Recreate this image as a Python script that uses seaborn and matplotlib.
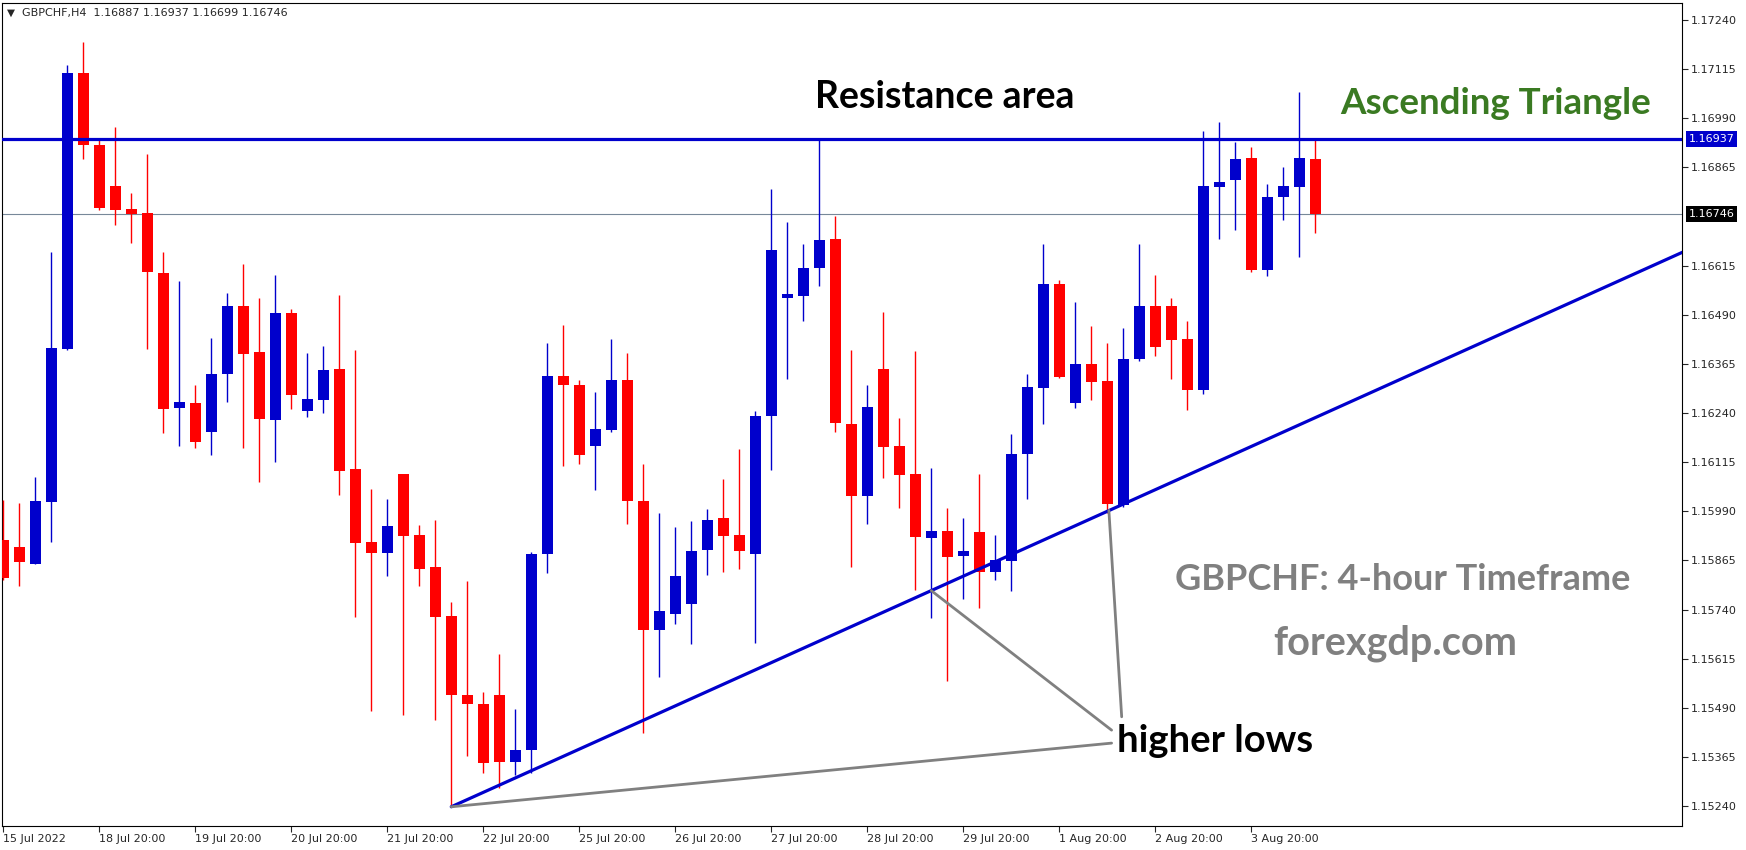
import matplotlib
matplotlib.use('Agg')
import matplotlib.pyplot as plt
import matplotlib.transforms as mtransforms
import pandas as pd
import seaborn as sns

# GBPCHF H4 candles, from 15 Jul 2022 20:00 to 4 Aug 12:00
opens = [1.15918, 1.15900, 1.15857, 1.16013, 1.16404, 1.17105, 1.16922, 1.16818, 1.16759, 1.16750,
         1.16596, 1.16253, 1.16266, 1.16192, 1.16338, 1.16513, 1.16396, 1.16223, 1.16495, 1.16244,
         1.16273, 1.16353, 1.16098, 1.15912, 1.15884, 1.16086, 1.15930, 1.15849, 1.15724, 1.15523,
         1.15500, 1.15523, 1.15352, 1.15382, 1.15881, 1.16335, 1.16312, 1.16157, 1.16198, 1.16324,
         1.16017, 1.15689, 1.15729, 1.15754, 1.15892, 1.15973, 1.15930, 1.15880, 1.16233, 1.16532,
         1.16538, 1.16610, 1.16683, 1.16213, 1.16028, 1.16353, 1.16155, 1.16086, 1.15922, 1.15941,
         1.15875, 1.15938, 1.15836, 1.15863, 1.16136, 1.16304, 1.16567, 1.16265, 1.16365, 1.16322,
         1.16005, 1.16378, 1.16513, 1.16513, 1.16428, 1.16299, 1.16814, 1.16832, 1.16890, 1.16604,
         1.16789, 1.16814, 1.16887]
highs = [1.16019, 1.16012, 1.16078, 1.16650, 1.17125, 1.17185, 1.16937, 1.16968, 1.16800, 1.16899,
         1.16650, 1.16576, 1.16312, 1.16431, 1.16545, 1.16619, 1.16533, 1.16591, 1.16505, 1.16393,
         1.16410, 1.16541, 1.16401, 1.16047, 1.16021, 1.16086, 1.15956, 1.15969, 1.15759, 1.15813,
         1.15531, 1.15627, 1.15486, 1.15887, 1.16419, 1.16464, 1.16324, 1.16293, 1.16429, 1.16393,
         1.16110, 1.15985, 1.15949, 1.15964, 1.15995, 1.16073, 1.16149, 1.16246, 1.16810, 1.16727,
         1.16670, 1.16937, 1.16742, 1.16401, 1.16312, 1.16498, 1.16227, 1.16397, 1.16101, 1.15999,
         1.15972, 1.16086, 1.15930, 1.16187, 1.16338, 1.16670, 1.16578, 1.16522, 1.16462, 1.16419,
         1.16456, 1.16670, 1.16591, 1.16533, 1.16475, 1.16957, 1.16981, 1.16930, 1.16917, 1.16822,
         1.16867, 1.17057, 1.16937]
lows = [1.15814, 1.15799, 1.15855, 1.15911, 1.16400, 1.16887, 1.16756, 1.16719, 1.16673, 1.16404,
        1.16190, 1.16155, 1.16152, 1.16133, 1.16269, 1.16152, 1.16065, 1.16116, 1.16250, 1.16230,
        1.16241, 1.16032, 1.15721, 1.15483, 1.15824, 1.15472, 1.15801, 1.15460, 1.15238, 1.15366,
        1.15324, 1.15285, 1.15319, 1.15325, 1.15833, 1.16106, 1.16109, 1.16044, 1.16192, 1.15958,
        1.15426, 1.15569, 1.15704, 1.15653, 1.15829, 1.15836, 1.15844, 1.15655, 1.16094, 1.16327,
        1.16475, 1.16564, 1.16192, 1.15849, 1.15958, 1.16075, 1.15999, 1.15790, 1.15719, 1.15558,
        1.15766, 1.15745, 1.15814, 1.15787, 1.16020, 1.16213, 1.16328, 1.16254, 1.16272, 1.15985,
        1.16001, 1.16373, 1.16386, 1.16327, 1.16248, 1.16288, 1.16684, 1.16705, 1.16600, 1.16588,
        1.16731, 1.16637, 1.16699]
closes = [1.15821, 1.15860, 1.16015, 1.16406, 1.17105, 1.16921, 1.16762, 1.16756, 1.16746, 1.16599,
          1.16250, 1.16269, 1.16167, 1.16338, 1.16513, 1.16390, 1.16225, 1.16495, 1.16287, 1.16276,
          1.16350, 1.16093, 1.15910, 1.15884, 1.15953, 1.15926, 1.15844, 1.15721, 1.15523, 1.15499,
          1.15350, 1.15352, 1.15383, 1.15881, 1.16335, 1.16311, 1.16133, 1.16200, 1.16324, 1.16016,
          1.15689, 1.15735, 1.15824, 1.15890, 1.15969, 1.15926, 1.15890, 1.16233, 1.16656, 1.16544,
          1.16610, 1.16681, 1.16215, 1.16028, 1.16256, 1.16153, 1.16083, 1.15925, 1.15941, 1.15873,
          1.15888, 1.15836, 1.15867, 1.16136, 1.16307, 1.16567, 1.16331, 1.16365, 1.16320, 1.16008,
          1.16378, 1.16513, 1.16409, 1.16425, 1.16299, 1.16818, 1.16829, 1.16887, 1.16604, 1.16790,
          1.16818, 1.16890, 1.16746]

tick_pos = [0, 6, 12, 18, 24, 30, 36, 42, 48, 54, 60, 66, 72, 78]
tick_labels = ['15 Jul 2022', '18 Jul 20:00', '19 Jul 20:00', '20 Jul 20:00', '21 Jul 20:00',
               '22 Jul 20:00', '25 Jul 20:00', '26 Jul 20:00', '27 Jul 20:00', '28 Jul 20:00',
               '29 Jul 20:00', '1 Aug 20:00', '2 Aug 20:00', '3 Aug 20:00']
price_ticks = [1.17240, 1.17115, 1.16990, 1.16865, 1.16615, 1.16490, 1.16365, 1.16240,
               1.16115, 1.15990, 1.15865, 1.15740, 1.15615, 1.15490, 1.15365, 1.15240]

resistance = 1.16937
last_price = 1.16746
header = 'GBPCHF,H4  1.16887 1.16937 1.16699 1.16746'

# ascending trendline (ray) through the higher lows
trend_x = [28, 105]
trend_y = [1.15238, 1.16650]
# grey pointer lines from the "higher lows" label
pointer_x = [[28, 69.27], [58, 69.27], [69.1, 69.9]]
pointer_y = [[1.15238, 1.15400], [1.15788, 1.15433], [1.15992, 1.15467]]

df = pd.DataFrame({'open': opens, 'high': highs, 'low': lows, 'close': closes})
df['idx'] = range(len(df))
df['up'] = df['close'] >= df['open']
df['color'] = df['up'].map({True: '#0000CC', False: '#FF0000'})
df['body_lo'] = df[['open', 'close']].min(axis=1)
df['body_h'] = (df['close'] - df['open']).abs()

sns.set_style('white')
plt.rcParams['font.family'] = ['DejaVu Sans']

W, H = 1746, 850
fig = plt.figure(figsize=(W / 100, H / 100), dpi=100)
ax = fig.add_axes([2 / W, 1 - 826 / H, 1680 / W, 823 / H])

# candles
ax.vlines(df['idx'], df['low'], df['high'], colors=df['color'], linewidth=1.0, zorder=3)
ax.bar(df['idx'], df['body_h'], bottom=df['body_lo'], width=0.68,
       color=df['color'], linewidth=0, zorder=4)

# horizontal lines
ax.axhline(resistance, color='#0000CC', lw=2.3, zorder=5)
ax.axhline(last_price, color='#778899', lw=0.8, zorder=2)

# trendline and pointers
sns.lineplot(x=trend_x, y=trend_y, ax=ax, color='#0000CC', lw=2.3, zorder=5)
for px, py in zip(pointer_x, pointer_y):
    sns.lineplot(x=px, y=py, ax=ax, color='#808080', lw=2.0, sort=False, zorder=5)

ax.set_xlim(-0.08, 104.92)
ax.set_ylim(1.151891, 1.172833)

ax.set_xticks(tick_pos)
ax.set_xticklabels(tick_labels, ha='left')
ax.yaxis.tick_right()
ax.set_yticks(price_ticks)
ax.set_yticklabels([f'{v:.5f}' for v in price_ticks])
ax.tick_params(axis='x', length=4, width=0.8, pad=1.5, labelsize=8, direction='out', bottom=True)
ax.tick_params(axis='y', length=4, width=0.8, pad=2, labelsize=8, direction='out', right=True)
ax.set_xlabel('')
ax.set_ylabel('')
for s in ax.spines.values():
    s.set_visible(True)
    s.set_color('black')
    s.set_linewidth(0.8)

# price tags on the right axis
tr = mtransforms.blended_transform_factory(ax.transAxes, ax.transData)
ax.text(1.004, resistance, f'{resistance:.5f}', transform=tr, color='white', fontsize=8,
        va='center', ha='left', clip_on=False, zorder=10,
        bbox=dict(boxstyle='square,pad=0.25', fc='#0000CC', ec='none'))
ax.text(1.004, last_price, f'{last_price:.5f}', transform=tr, color='white', fontsize=8,
        va='center', ha='left', clip_on=False, zorder=10,
        bbox=dict(boxstyle='square,pad=0.25', fc='black', ec='none'))

# header
fig.text(7 / W, 1 - 13 / H, '\u25BC', fontsize=7.5, va='center', ha='left')
fig.text(22 / W, 1 - 13 / H, header, fontsize=8, va='center', ha='left')

# annotations
big = dict(family=['Lato', 'DejaVu Sans'], weight='bold', va='baseline')
fig.text(815 / W, 1 - 108 / H, 'Resistance area', color='black', ha='left', fontsize=27, **big)
fig.text(1340 / W, 1 - 114 / H, 'Ascending Triangle', color='#3A7A22', ha='left', fontsize=26.5, **big)
fig.text(1175 / W, 1 - 590 / H, 'GBPCHF: 4-hour Timeframe', color='#808080', ha='left', fontsize=26, **big)
fig.text(1395 / W, 1 - 654 / H, 'forexgdp.com', color='#808080', ha='center', fontsize=28.5, **big)
fig.text(1117 / W, 1 - 752 / H, 'higher lows', color='black', ha='left', fontsize=27.5, **big)

fig.savefig('out.png', dpi=100)
